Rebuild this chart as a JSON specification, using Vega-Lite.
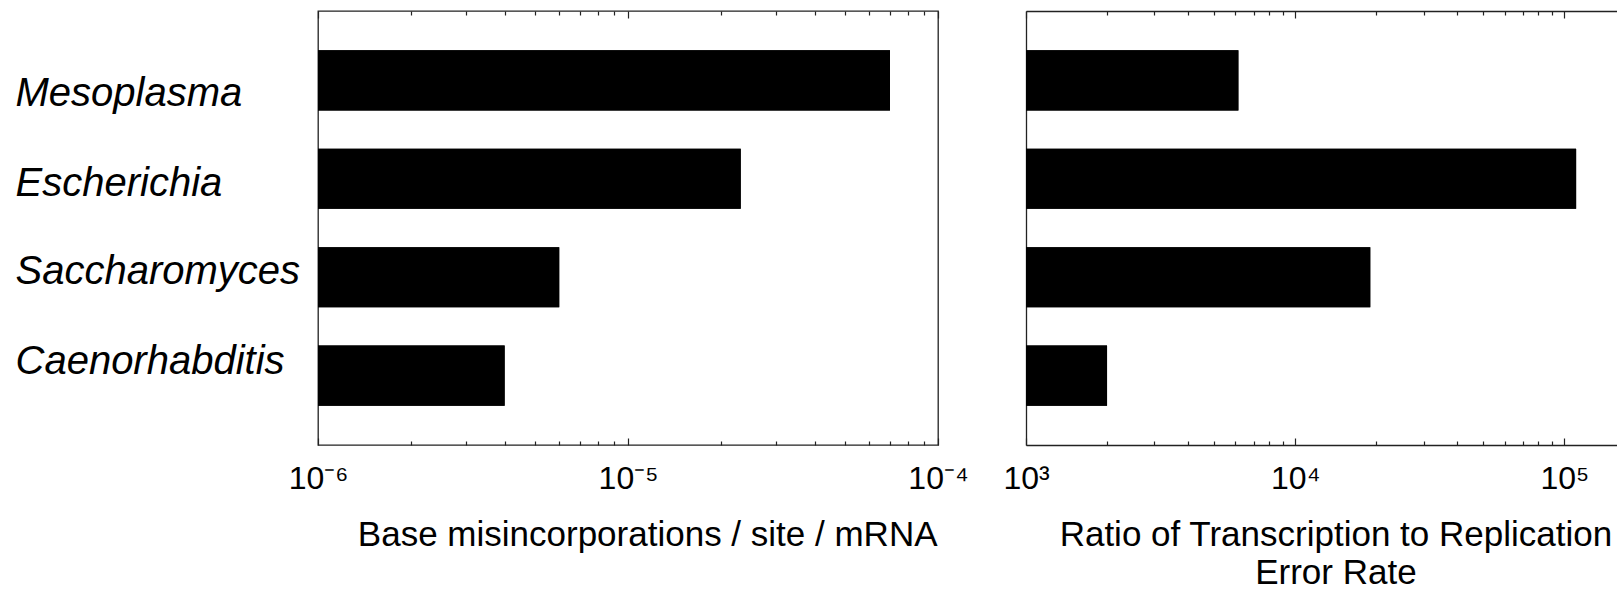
{
  "$schema": "https://vega.github.io/schema/vega-lite/v6.json",
  "padding": {"left": 14, "top": 9, "right": 0, "bottom": 0},
  "autosize": {"type": "pad"},
  "background": "white",
  "config": {
    "font": "Liberation Sans",
    "view": {"stroke": null},
    "axis": {"labelFont": "Liberation Sans", "titleFont": "Liberation Sans", "labelColor": "#000", "titleColor": "#000", "titleFontWeight": "normal", "domainColor": "#222", "tickColor": "#222", "grid": false}
  },
  "data": {"values": [
    {"species": "Mesoplasma", "misincorporation": 0.000070, "ratio": 6150},
    {"species": "Escherichia", "misincorporation": 0.0000231, "ratio": 110500},
    {"species": "Saccharomyces", "misincorporation": 0.0000060, "ratio": 19000},
    {"species": "Caenorhabditis", "misincorporation": 0.0000040, "ratio": 2000}
  ]},
  "bounds": "flush",
  "spacing": 88,
  "hconcat": [
    {
      "width": 620, "height": 434,
      "view": {"stroke": "#222", "strokeWidth": 1.3},
      "encoding": {
        "y": {"field": "species", "type": "nominal", "sort": null,
          "scale": {"paddingInner": 0.39, "paddingOuter": 0.4},
          "axis": {"title": null, "domain": false, "ticks": false, "tickSize": 0, "labelAlign": "left", "labelPadding": 303,
            "labelFontSize": 40, "labelFontStyle": "italic", "labelBaseline": "alphabetic", "labelLimit": 400,
            "labelOffset": {"condition": [
              {"test": "datum.value === 'Mesoplasma'", "value": 26},
              {"test": "datum.value === 'Escherichia'", "value": 17},
              {"test": "datum.value === 'Saccharomyces'", "value": 7}
            ], "value": -2}}}
      },
      "layer": [
        {"mark": {"type": "bar", "color": "black"},
         "encoding": {
           "x": {"field": "misincorporation", "type": "quantitative",
             "scale": {"type": "log", "domain": [0.000001, 0.0001], "nice": false},
             "axis": {"orient": "bottom", "domain": false,
               "values": [0.000001, 0.000002, 0.000003, 0.000004, 0.000005, 0.000006, 0.000007, 0.000008, 0.000009, 0.00001, 0.00002, 0.00003, 0.00004, 0.00005, 0.00006, 0.00007, 0.00008, 0.00009, 0.0001],
               "tickSize": {"condition": {"test": "abs(log(datum.value)/LN10 - round(log(datum.value)/LN10)) < 0.001", "value": -7}, "value": -4},
               "tickWidth": 1.2,
               "labelExpr": "abs(log(datum.value)/LN10 - round(log(datum.value)/LN10)) < 0.001 ? (round(log(datum.value)/LN10) == -6 ? '10\u207B\u2076' : round(log(datum.value)/LN10) == -5 ? '10\u207B\u2075' : '10\u207B\u2074') : ''",
               "labelFontSize": 32, "labelPadding": 25, "labelFlush": false, "labelOverlap": false, "labelBound": false,
               "title": "Base misincorporations / site / mRNA", "titleFontSize": 35, "titleAlign": "right", "titleX": 619, "titleY": 100.5, "titleBaseline": "alphabetic"}},
           "x2": {"datum": 0.000001}
         }},
        {"mark": {"type": "bar", "color": "black"},
         "encoding": {
           "x": {"field": "misincorporation", "type": "quantitative",
             "scale": {"type": "log", "domain": [0.000001, 0.0001], "nice": false},
             "axis": {"orient": "top", "domain": false, "labels": false, "title": null,
               "values": [0.000001, 0.000002, 0.000003, 0.000004, 0.000005, 0.000006, 0.000007, 0.000008, 0.000009, 0.00001, 0.00002, 0.00003, 0.00004, 0.00005, 0.00006, 0.00007, 0.00008, 0.00009, 0.0001],
               "tickSize": {"condition": {"test": "abs(log(datum.value)/LN10 - round(log(datum.value)/LN10)) < 0.001", "value": -7}, "value": -4},
               "tickWidth": 1.2}},
           "x2": {"datum": 0.000001}
         }}
      ],
      "resolve": {"axis": {"x": "independent"}}
    },
    {
      "width": 591, "height": 434,
      "view": {"stroke": null},
      "encoding": {
        "y": {"field": "species", "type": "nominal", "sort": null,
          "scale": {"paddingInner": 0.39, "paddingOuter": 0.4},
          "axis": {"title": null, "labels": false, "ticks": false, "domain": true, "domainColor": "#222", "domainWidth": 1.3}}
      },
      "layer": [
        {"mark": {"type": "bar", "color": "black"},
         "encoding": {
           "x": {"field": "ratio", "type": "quantitative",
             "scale": {"type": "log", "domain": [1000, 156750], "nice": false},
             "axis": {"orient": "bottom", "domain": true, "domainWidth": 1.3,
               "values": [1000, 2000, 3000, 4000, 5000, 6000, 7000, 8000, 9000, 10000, 20000, 30000, 40000, 50000, 60000, 70000, 80000, 90000, 100000],
               "tickSize": {"condition": {"test": "abs(log(datum.value)/LN10 - round(log(datum.value)/LN10)) < 0.001", "value": -7}, "value": -4},
               "tickWidth": 1.2,
               "labelExpr": "abs(log(datum.value)/LN10 - round(log(datum.value)/LN10)) < 0.001 ? (round(log(datum.value)/LN10) == 3 ? '10\u00B3' : round(log(datum.value)/LN10) == 4 ? '10\u2074' : '10\u2075') : ''",
               "labelFontSize": 32, "labelPadding": 25, "labelFlush": false, "labelOverlap": false, "labelBound": false,
               "title": ["Ratio of Transcription to Replication", "Error Rate"], "titleFontSize": 35, "titleAlign": "center", "titleX": 309.4, "titleY": 100.5, "titleBaseline": "alphabetic", "titleLineHeight": 38}},
           "x2": {"datum": 1000}
         }},
        {"mark": {"type": "bar", "color": "black"},
         "encoding": {
           "x": {"field": "ratio", "type": "quantitative",
             "scale": {"type": "log", "domain": [1000, 156750], "nice": false},
             "axis": {"orient": "top", "domain": true, "domainWidth": 1.3, "labels": false, "title": null,
               "values": [1000, 2000, 3000, 4000, 5000, 6000, 7000, 8000, 9000, 10000, 20000, 30000, 40000, 50000, 60000, 70000, 80000, 90000, 100000],
               "tickSize": {"condition": {"test": "abs(log(datum.value)/LN10 - round(log(datum.value)/LN10)) < 0.001", "value": -7}, "value": -4},
               "tickWidth": 1.2}},
           "x2": {"datum": 1000}
         }}
      ],
      "resolve": {"axis": {"x": "independent"}}
    }
  ]
}
